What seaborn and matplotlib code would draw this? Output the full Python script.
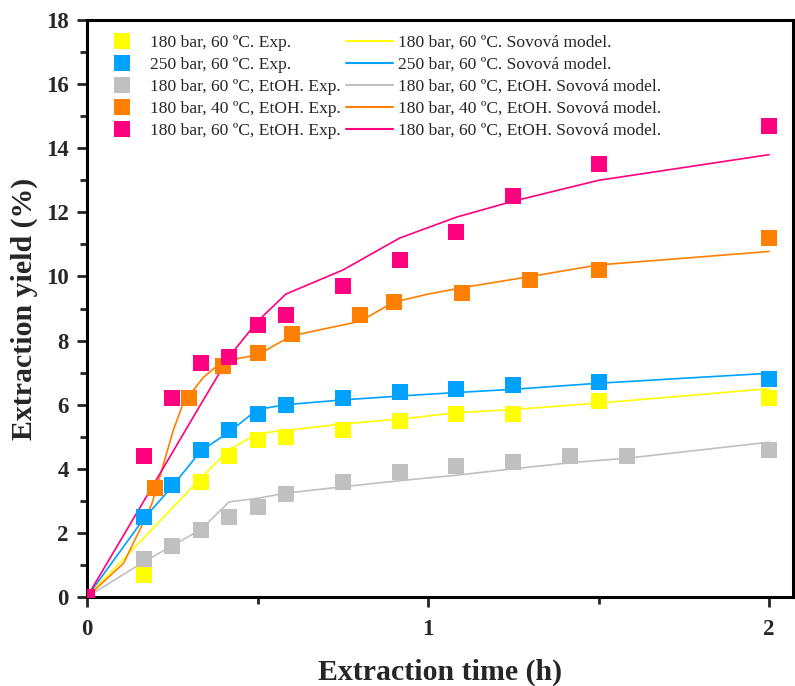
import numpy as np
import pandas as pd
import seaborn as sns
import matplotlib.pyplot as plt
from matplotlib.ticker import MultipleLocator

# experimental points (time h, yield %)
t_y60 = [0, 0.167, 0.333, 0.417, 0.5, 0.583, 0.75, 0.917, 1.083, 1.25, 1.5, 2.0]
y_y60 = [0, 0.7, 3.6, 4.4, 4.9, 5.0, 5.2, 5.5, 5.7, 5.7, 6.1, 6.2]

t_b250 = [0, 0.167, 0.25, 0.333, 0.417, 0.5, 0.583, 0.75, 0.917, 1.083, 1.25, 1.5, 2.0]
y_b250 = [0, 2.5, 3.5, 4.6, 5.2, 5.7, 6.0, 6.2, 6.4, 6.5, 6.6, 6.7, 6.8]

t_g60e = [0, 0.167, 0.25, 0.333, 0.417, 0.5, 0.583, 0.75, 0.917, 1.083, 1.25, 1.417, 1.583, 2.0]
y_g60e = [0, 1.2, 1.6, 2.1, 2.5, 2.8, 3.2, 3.6, 3.9, 4.1, 4.2, 4.4, 4.4, 4.6]

t_o40e = [0, 0.2, 0.3, 0.4, 0.5, 0.6, 0.8, 0.9, 1.1, 1.3, 1.5, 2.0]
y_o40e = [0, 3.4, 6.2, 7.2, 7.6, 8.2, 8.8, 9.2, 9.5, 9.9, 10.2, 11.2]

t_p60e = [0, 0.167, 0.25, 0.333, 0.417, 0.5, 0.583, 0.75, 0.917, 1.083, 1.25, 1.5, 2.0]
y_p60e = [0, 4.4, 6.2, 7.3, 7.5, 8.5, 8.8, 9.7, 10.5, 11.4, 12.5, 13.5, 14.7]

# Sovova model curves
m_y60 = [0, 1.85, 3.7, 4.6, 5.1, 5.2, 5.4, 5.55, 5.75, 5.85, 6.05, 6.5]
m_b250 = [0, 2.45, 3.45, 4.55, 5.15, 5.85, 6.0, 6.15, 6.27, 6.38, 6.48, 6.67, 6.98]
m_g60e = [0, 1.1, 1.6, 2.1, 2.97, 3.08, 3.24, 3.44, 3.63, 3.8, 4.0, 4.19, 4.33, 4.83]
mt_o40e = [0, 0.107, 0.155, 0.19, 0.219, 0.253, 0.282, 0.312, 0.341, 0.38, 0.42, 0.5,
           0.6, 0.8, 0.9, 1.0, 1.1, 1.3, 1.5, 2.0]
m_o40e = [0, 1.05, 2.1, 2.9, 3.95, 5.2, 6.05, 6.45, 6.85, 7.2, 7.4, 7.55,
          8.15, 8.6, 9.2, 9.45, 9.65, 10.0, 10.36, 10.78]
m_p60e = [0, 3.0, 4.5, 6.0, 7.5, 8.6, 9.45, 10.2, 11.2, 11.85, 12.35, 13.0, 13.8]

colors = ["#FFFF00", "#00A2FF", "#C0C0C0", "#FF8000", "#FF0080"]
names = ["180 bar, 60 ºC", "250 bar, 60 ºC", "180 bar, 60 ºC, EtOH",
         "180 bar, 40 ºC, EtOH", "180 bar, 60 ºC, EtOH"]

sns.set_style("ticks")
plt.rcParams["font.family"] = ["Liberation Serif", "DejaVu Serif"]

fig = plt.figure(figsize=(7.95, 6.86), dpi=100)
ax = fig.add_axes([0.1094, 0.1297, 0.8881, 0.8411])

exp_sets = [(t_y60, y_y60), (t_b250, y_b250), (t_g60e, y_g60e), (t_o40e, y_o40e), (t_p60e, y_p60e)]
mod_sets = [(t_y60, m_y60), (t_b250, m_b250), (t_g60e, m_g60e), (mt_o40e, m_o40e), (t_p60e, m_p60e)]

line_handles = []
for (tt, mm), c, n in zip(mod_sets, colors, names):
    sns.lineplot(x=tt, y=mm, color=c, linewidth=1.2, ax=ax, sort=False, zorder=2)
    line_handles.append(plt.Line2D([], [], color=c, linewidth=1.5, label=n + ". Sovová model."))

mark_handles = []
for (tt, yy), c, n in zip(exp_sets, colors, names):
    sns.scatterplot(x=tt, y=yy, color=c, marker="s", s=140, linewidth=0, ax=ax, zorder=3)
    mark_handles.append(plt.Line2D([], [], color=c, marker="s", markersize=12, linestyle="none",
                                   markeredgewidth=0, label=n + ". Exp."))

ax.set_xlim(0, 2.07)
ax.set_ylim(0, 18)
ax.xaxis.set_major_locator(MultipleLocator(1))
ax.xaxis.set_minor_locator(MultipleLocator(0.5))
ax.yaxis.set_major_locator(MultipleLocator(2))
ax.yaxis.set_minor_locator(MultipleLocator(1))
ax.tick_params(which="major", direction="out", length=7, width=2, labelsize=16.5, pad=6)
ax.tick_params(which="minor", direction="out", length=5, width=2)
ax.tick_params(axis="x", which="major", pad=9)
for lab in ax.get_xticklabels() + ax.get_yticklabels():
    lab.set_fontweight("bold")
for sp in ax.spines.values():
    sp.set_linewidth(2.2)
    sp.set_color("black")

ax.set_xlabel("Extraction time (h)", fontsize=21.5, fontweight="bold", labelpad=13)
ax.set_ylabel("Extraction yield (%)", fontsize=21.5, fontweight="bold", labelpad=6)

ax.legend(handles=mark_handles + line_handles, ncol=2, loc="upper left",
          bbox_to_anchor=(0.016, 0.975), frameon=False, fontsize=12.6,
          handlelength=2.7, handletextpad=0.25, columnspacing=0.3,
          labelspacing=0.33, borderpad=0, borderaxespad=0)

fig.savefig("out.png", dpi=100)
